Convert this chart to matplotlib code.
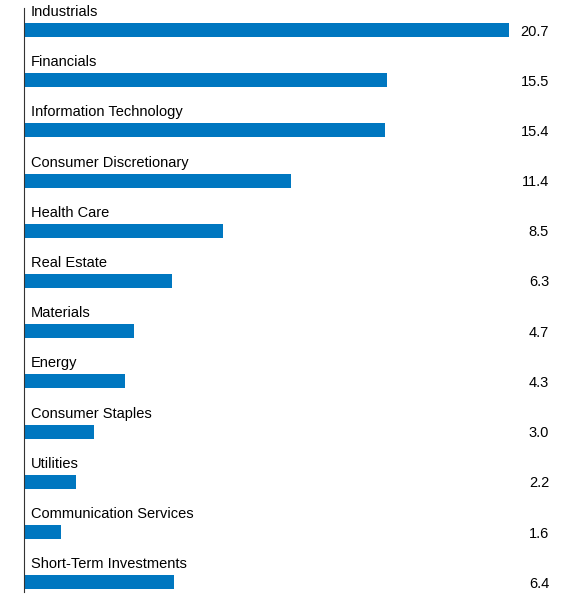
import matplotlib
matplotlib.use("Agg")
import matplotlib.pyplot as plt

sectors = [
    "Industrials", "Financials", "Information Technology", "Consumer Discretionary",
    "Health Care", "Real Estate", "Materials", "Energy", "Consumer Staples",
    "Utilities", "Communication Services", "Short-Term Investments",
]
weights = [20.7, 15.5, 15.4, 11.4, 8.5, 6.3, 4.7, 4.3, 3.0, 2.2, 1.6, 6.4]

W, H = 573, 598
plt.rcParams["font.family"] = ["Liberation Sans", "DejaVu Sans"]
fig = plt.figure(figsize=(W / 100, H / 100), dpi=100)
x0 = 24
ax = fig.add_axes([x0 / W, 0, 1 - x0 / W, 1])
px_per_unit = (509 - x0) / 20.7
ax.set_xlim(0, (W - x0) / px_per_unit)
ax.set_ylim(H, 0)

pitch = 50.2
centers = [30 + pitch * i for i in range(len(sectors))]
ax.barh(centers, weights, height=14, color="#0077c0")
label_x = (549 - x0) / px_per_unit
for y, name, v in zip(centers, sectors, weights):
    ax.text(7 / px_per_unit, y - 18, name, fontsize=10.5, va="center", ha="left", color="black")
    ax.text(label_x, y + 1.5, f"{v:.1f}", fontsize=10.5, va="center", ha="right", color="black")

for s in ["top", "right", "bottom"]:
    ax.spines[s].set_visible(False)
ax.spines["left"].set_bounds(H - 6, 8)
ax.spines["left"].set_color("#333333")
ax.set_xticks([])
ax.set_yticks([])
fig.savefig("out.png", dpi=100)
